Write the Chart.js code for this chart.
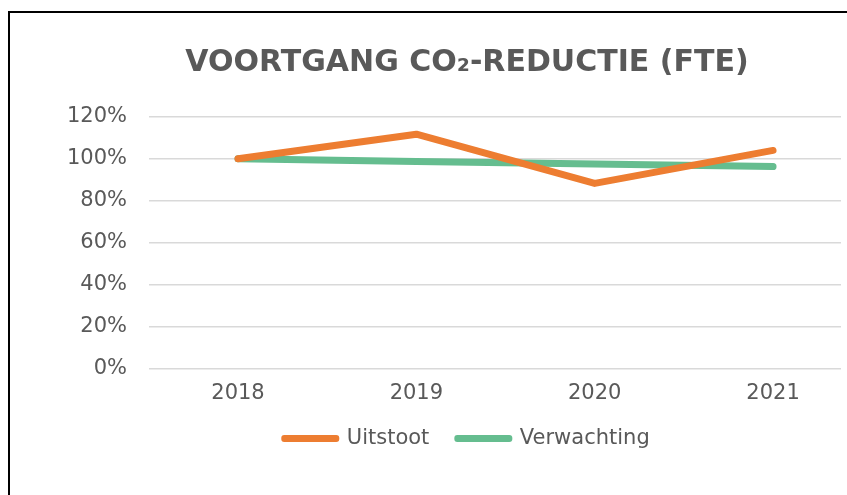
<!DOCTYPE html>
<html>
<head>
<meta charset="utf-8">
<script src="https://cdn.jsdelivr.net/npm/chart.js@4.4.1/dist/chart.umd.min.js"></script>
<style>
  html, body { margin: 0; padding: 0; background: #ffffff; overflow: hidden; width: 847px; height: 495px; }
  #frame { position: absolute; left: 8px; top: 11px; border-left: 2px solid #000; border-top: 2px solid #000; width: 914px; height: 500px; }
  canvas { display: block; }
</style>
</head>
<body>
<div id="frame"><canvas id="c" width="914" height="446" style="width:914px;height:446px"></canvas></div>
<script>
const titleText = 'VOORTGANG CO\u2082-REDUCTIE (FTE)';
const categories = ['2018', '2019', '2020', '2021'];
const uitstoot = [100, 111.7, 88.3, 104];
const verwachting = [100, 98.7, 97.5, 96.3];
const yTicks = [0, 20, 40, 60, 80, 100, 120];
const seriesNames = ['Uitstoot', 'Verwachting'];
const seriesColors = ['#ED7D31', '#65BD8F'];

const textColor = '#595959';
const fontFamily = '"DejaVu Sans", Verdana, sans-serif';

const toPoints = arr => arr.map((v, i) => ({ x: i, y: v }));

new Chart(document.getElementById('c'), {
  type: 'line',
  data: {
    datasets: [
      { label: seriesNames[0], data: toPoints(uitstoot), borderColor: seriesColors[0], backgroundColor: seriesColors[0],
        borderWidth: 7, pointRadius: 0, borderCapStyle: 'round', borderJoinStyle: 'round', tension: 0 },
      { label: seriesNames[1], data: toPoints(verwachting), borderColor: seriesColors[1], backgroundColor: seriesColors[1],
        borderWidth: 7, pointRadius: 0, borderCapStyle: 'round', borderJoinStyle: 'round', tension: 0 }
    ]
  },
  options: {
    responsive: false,
    animation: false,
    devicePixelRatio: 1,
    layout: { padding: 0 },
    plugins: {
      tooltip: { enabled: false },
      title: {
        display: true,
        text: titleText,
        color: textColor,
        font: { family: fontFamily, size: 30, weight: 'bold', lineHeight: 1.2 },
        padding: { top: 32.5, bottom: 35.3 }
      },
      legend: {
        display: true,
        position: 'bottom',
        labels: {
          color: textColor,
          font: { family: fontFamily, size: 21 },
          boxWidth: 52,
          boxHeight: 1,
          padding: 28,
          generateLabels: (chart) => chart.data.datasets.map((ds, i) => ({
            text: ds.label,
            fillStyle: ds.borderColor,
            strokeStyle: ds.borderColor,
            lineWidth: 6,
            lineJoin: 'round',
            lineCap: 'round',
            hidden: false,
            datasetIndex: i,
            fontColor: textColor
          }))
        }
      }
    },
    scales: {
      x: {
        type: 'linear',
        min: -0.499,
        max: 3.381,
        grid: { display: false, drawTicks: false },
        border: { display: false },
        afterBuildTicks: (scale) => { scale.ticks = categories.map((c, i) => ({ value: i })); },
        afterFit: (scale) => { scale.height = 31; },
        ticks: {
          padding: 12,
          color: textColor,
          font: { family: fontFamily, size: 21 },
          maxRotation: 0,
          autoSkip: false,
          callback: (v) => categories[v]
        }
      },
      y: {
        type: 'linear',
        min: 0,
        max: 120,
        afterBuildTicks: (scale) => { scale.ticks = yTicks.map(v => ({ value: v })); },
        afterFit: (scale) => { scale.width = 139; },
        grid: { color: '#D9D9D9', lineWidth: 1.5, drawTicks: false },
        border: { display: false },
        ticks: {
          padding: 22,
          color: textColor,
          font: { family: fontFamily, size: 21 },
          callback: (v) => v + '%'
        }
      },
      yRight: {
        type: 'linear',
        position: 'right',
        display: true,
        grid: { display: false, drawTicks: false },
        border: { display: false },
        ticks: { display: false },
        afterFit: (scale) => { scale.width = 83; }
      }
    }
  }
});
</script>
</body>
</html>
